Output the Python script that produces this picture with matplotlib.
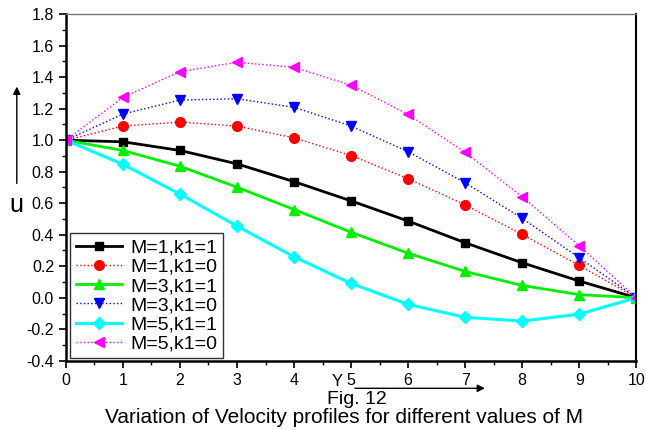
import numpy as np
import matplotlib
matplotlib.use('Agg')
import matplotlib.pyplot as plt
from matplotlib.ticker import MultipleLocator, FormatStrFormatter
from matplotlib.patches import FancyArrowPatch

plt.rcParams['font.family'] = ['Liberation Sans', 'DejaVu Sans']

# distance across the channel
y = [0, 1, 2, 3, 4, 5, 6, 7, 8, 9, 10]

# velocity profiles
u_m1_k1 = [1.0, 0.99, 0.935, 0.85, 0.737, 0.615, 0.487, 0.349, 0.222, 0.106, 0.0]
u_m1_k0 = [1.0, 1.09, 1.115, 1.09, 1.015, 0.903, 0.756, 0.589, 0.402, 0.205, 0.0]
u_m3_k1 = [1.0, 0.935, 0.835, 0.702, 0.56, 0.416, 0.283, 0.167, 0.078, 0.02, 0.0]
u_m3_k0 = [1.0, 1.166, 1.255, 1.263, 1.209, 1.09, 0.927, 0.73, 0.504, 0.254, 0.0]
u_m5_k1 = [1.0, 0.847, 0.658, 0.455, 0.26, 0.091, -0.042, -0.124, -0.148, -0.104, 0.0]
u_m5_k0 = [1.0, 1.272, 1.435, 1.495, 1.463, 1.349, 1.164, 0.923, 0.641, 0.33, 0.0]

labels = ['M=1,k1=1', 'M=1,k1=0', 'M=3,k1=1', 'M=3,k1=0', 'M=5,k1=1', 'M=5,k1=0']

fig = plt.figure(figsize=(6.46, 4.30), dpi=100)
ax = fig.add_axes([0.102, 0.161, 0.883, 0.806])

ax.plot(y, u_m1_k1, color='black', lw=2, ls='-', marker='s', ms=6, label=labels[0])
ax.plot(y, u_m1_k0, color='red', lw=1, ls=':', marker='o', ms=7, label=labels[1])
ax.plot(y, u_m3_k1, color='#00ee00', lw=2, ls='-', marker='^', ms=7, label=labels[2])
ax.plot(y, u_m3_k0, color='blue', lw=1, ls=':', marker='v', ms=7, label=labels[3])
ax.plot(y, u_m5_k1, color='cyan', lw=2.2, ls='-', marker='D', ms=6, label=labels[4])
ax.plot(y, u_m5_k0, color='magenta', lw=1, ls=':', marker='<', ms=7, label=labels[5])

ax.set_xlim(0, 10)
ax.set_ylim(-0.4, 1.8)
ax.xaxis.set_major_locator(MultipleLocator(1))
ax.xaxis.set_minor_locator(MultipleLocator(0.5))
ax.yaxis.set_major_locator(MultipleLocator(0.2))
ax.yaxis.set_minor_locator(MultipleLocator(0.1))
ax.yaxis.set_major_formatter(FormatStrFormatter('%.1f'))
ax.tick_params(which='major', direction='out', length=5, width=1.2, labelsize=11.5)
ax.tick_params(which='minor', direction='out', length=3, width=1)

ax.spines['left'].set_linewidth(1.8)
ax.spines['bottom'].set_linewidth(1.8)
ax.spines['right'].set_linewidth(1.5)
ax.spines['top'].set_linewidth(1)
ax.spines['top'].set_color('#777777')

leg = ax.legend(loc='lower left', bbox_to_anchor=(0.007, 0.007), fontsize=14,
                handlelength=2.4, frameon=True, fancybox=False, edgecolor='black',
                borderpad=0.3, labelspacing=0.08, handletextpad=0.4, borderaxespad=0)
leg.get_frame().set_linewidth(1)

# axis labels with arrows
fig.text(0.026, 0.523, 'u', fontsize=18, ha='center', va='center')
fig.add_artist(FancyArrowPatch((0.026, 0.567), (0.026, 0.805),
               transform=fig.transFigure, arrowstyle='-|>', mutation_scale=11,
               color='black', lw=1))
fig.text(0.522, 0.112, 'Y', fontsize=12, ha='center', va='center')
fig.add_artist(FancyArrowPatch((0.545, 0.097), (0.755, 0.097),
               transform=fig.transFigure, arrowstyle='-|>', mutation_scale=11,
               color='black', lw=1))
fig.text(0.553, 0.072, 'Fig. 12', fontsize=14, ha='center', va='center')
fig.text(0.533, 0.028, 'Variation of Velocity profiles for different values of M',
         fontsize=15, ha='center', va='center')

plt.savefig('out.png', dpi=100)
